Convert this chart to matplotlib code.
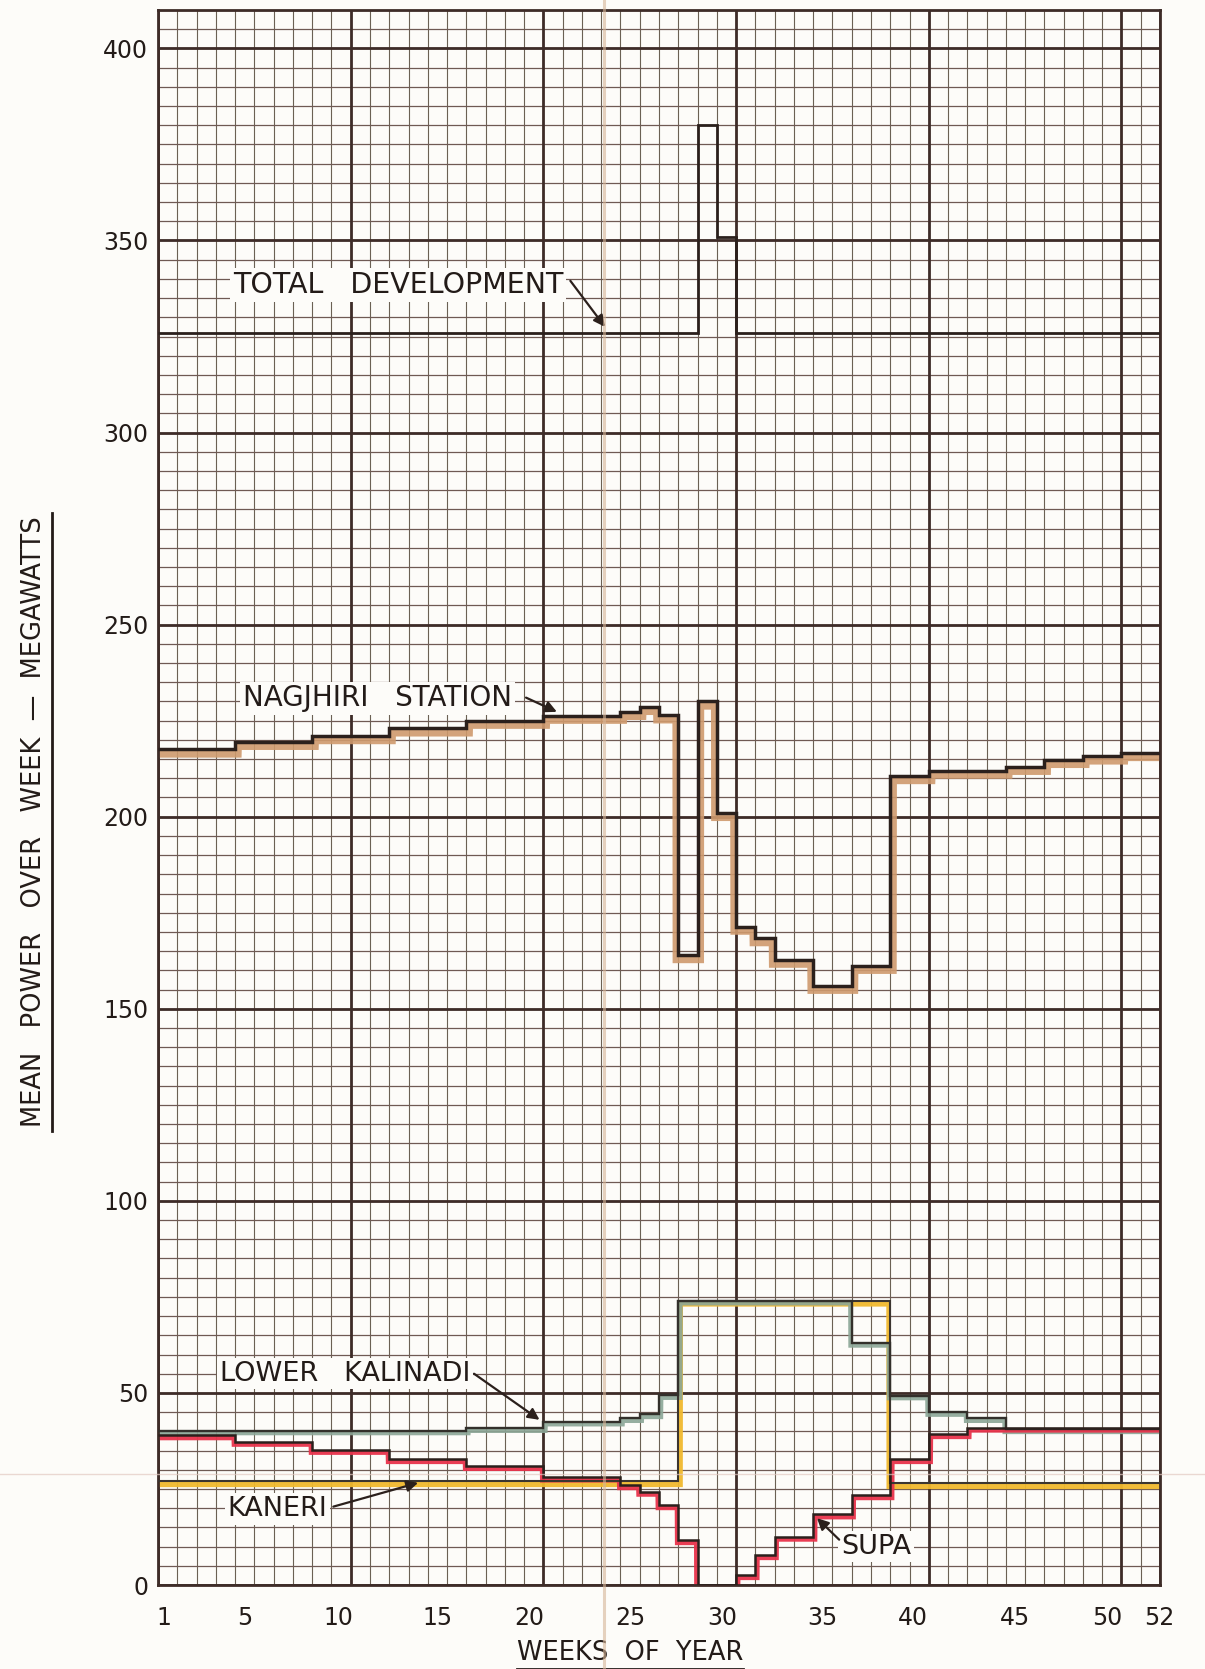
import numpy as np
import matplotlib
matplotlib.use("Agg")
import matplotlib.pyplot as plt
from matplotlib.lines import Line2D

# ---------------- data (weekly mean power, MW; week i spans [i-1, i]) ----------------
weeks = list(range(1, 53))

total_development = [326, 326, 326, 326, 326, 326, 326, 326, 326, 326,
                     326, 326, 326, 326, 326, 326, 326, 326, 326, 326,
                     326, 326, 326, 326, 326, 326, 326, 326, 380, 351,
                     326, 326, 326, 326, 326, 326, 326, 326, 326, 326,
                     326, 326, 326, 326, 326, 326, 326, 326, 326, 326,
                     326, 326]

nagjhiri = [217.5, 217.5, 217.5, 217.5, 219.5, 219.5, 219.5, 219.5, 221, 221,
            221, 221, 223, 223, 223, 223, 225, 225, 225, 225,
            226.3, 226.3, 226.3, 226.3, 227.3, 228.6, 226.4, 164, 230, 201,
            171.4, 168.4, 162.8, 162.8, 156, 156, 161.2, 161.2, 210.6, 210.6,
            212, 212, 212, 212, 213, 213, 214.8, 214.8, 215.7, 215.7,
            216.6, 216.6]

lower_kalinadi = [40.2, 40.2, 40.2, 40.2, 40.2, 40.2, 40.2, 40.2, 40.2, 40.2,
                  40.2, 40.2, 40.2, 40.2, 40.2, 40.2, 40.8, 40.8, 40.8, 40.8,
                  42.5, 42.5, 42.5, 42.5, 43.4, 44.4, 49.4, 74, 74, 74,
                  74, 74, 74, 74, 74, 74, 63, 63, 49.3, 49.3,
                  45, 45, 43.4, 43.4, 40.5, 40.5, 40.5, 40.5, 40.5, 40.5,
                  40.5, 40.5]

kaneri = [27, 27, 27, 27, 27, 27, 27, 27, 27, 27,
          27, 27, 27, 27, 27, 27, 27, 27, 27, 27,
          27, 27, 27, 27, 27, 27, 27, 74, 74, 74,
          74, 74, 74, 74, 74, 74, 74, 74, 26.5, 26.5,
          26.5, 26.5, 26.5, 26.5, 26.5, 26.5, 26.5, 26.5, 26.5, 26.5,
          26.5, 26.5]

supa = [39, 39, 39, 39, 37.3, 37.3, 37.3, 37.3, 35.2, 35.2,
        35.2, 35.2, 32.8, 32.8, 32.8, 32.8, 31, 31, 31, 31,
        28, 28, 28, 28, 26, 24.3, 20.8, 11.7, 0, 0,
        2.6, 7.8, 12.6, 12.6, 18.4, 18.4, 23.4, 23.4, 32.8, 32.8,
        39.3, 39.3, 41, 41, 41, 41, 41, 41, 41, 41,
        41, 41]

x_tick_labels = ["1", "5", "10", "15", "20", "25", "30", "35", "40", "45", "50", "52"]
y_tick_values = [0, 50, 100, 150, 200, 250, 300, 350, 400]

# ---------------- styling ----------------
PAPER = "#fdfcf9"
INK = "#2b201c"
TEXT = "#231b18"
GRID_MINOR_H = "#6f5a54"
GRID_MINOR_V = "#6b6154"
GRID_MAJOR = "#3e2c28"
FONT = "DejaVu Sans"

fig = plt.figure(figsize=(12.05, 16.69), dpi=100, facecolor=PAPER)
ax = fig.add_axes([158 / 1205, 84 / 1669, 1002 / 1205, 1575 / 1669])
ax.set_facecolor(PAPER)
ax.set_xlim(0, 52)
ax.set_ylim(0, 410)

# graph-paper grid
ax.vlines(np.arange(0, 53, 1), 0, 410, color=GRID_MINOR_V, lw=0.8, zorder=0.5)
ax.hlines(np.arange(0, 411, 5), 0, 52, color=GRID_MINOR_H, lw=0.9, zorder=0.5)
ax.vlines(list(np.arange(0, 51, 10)) + [52], 0, 410, color=GRID_MAJOR, lw=2.0, zorder=0.6)
ax.hlines(np.arange(0, 401, 50), 0, 52, color=GRID_MAJOR, lw=2.0, zorder=0.6)
for s in ax.spines.values():
    s.set_color(GRID_MAJOR)
    s.set_linewidth(2.0)

edges = np.arange(0, len(weeks) + 1)


def under_band(vals, dx, dy, n=100):
    """Coloured crayon band just inside (below) a step curve."""
    v = np.asarray(vals, float)
    xf = np.linspace(0, len(v), len(v) * n + 1)
    idx = np.minimum(xf.astype(int), len(v) - 1)
    yf = v[idx]
    k = int(round(dx * n))
    padded = np.pad(yf, k, mode="edge")
    win = np.lib.stride_tricks.sliding_window_view(padded, 2 * k + 1)
    low = win.min(axis=1) - dy
    return xf, low, yf


# coloured highlight bands
for vals, col, dx, dy, a in [
    (kaneri, "#f1b92e", 0.22, 1.4, 0.95),
    (lower_kalinadi, "#8ba696", 0.2, 1.1, 0.9),
    (supa, "#e8334b", 0.2, 1.2, 0.95),
    (nagjhiri, "#cf9a6d", 0.32, 2.0, 0.9),
]:
    xf, low, yf = under_band(vals, dx, dy)
    ax.fill_between(xf, low, yf, color=col, alpha=a, lw=0, zorder=2)

# black ink step lines
ax.stairs(total_development, edges, baseline=None, color=INK, lw=2.0, zorder=3)
ax.stairs(nagjhiri, edges, baseline=None, color=INK, lw=2.5, zorder=3)
ax.stairs(kaneri, edges, baseline=None, color="#3b3530", lw=1.5, zorder=3)
ax.stairs(lower_kalinadi, edges, baseline=None, color="#33302b", lw=1.7, zorder=3.1)
ax.stairs(supa, edges, baseline=None, color=INK, lw=1.8, zorder=3.2)

# ticks
x_tick_pos = [0.3, 4.5, 9.35, 14.5, 19.25, 24.5, 29.3, 34.5, 39.15, 44.5, 49.25, 51.95]
ax.set_xticks(x_tick_pos, x_tick_labels)
ax.set_yticks(y_tick_values, [str(v) for v in y_tick_values])
ax.tick_params(axis="both", length=0, labelsize=17, colors=TEXT)
ax.tick_params(axis="x", pad=15)
ax.tick_params(axis="y", pad=7)
for lab in ax.get_xticklabels() + ax.get_yticklabels():
    lab.set_fontfamily(FONT)

# annotations
box = dict(facecolor=PAPER, edgecolor="none", pad=2)
arrow = dict(arrowstyle="-|>", color=INK, lw=1.6, mutation_scale=17, shrinkA=0, shrinkB=0)
tsize = 19.5


def label(text, x, y, tail, tip, size=tsize):
    ax.text(x, y, text, fontsize=size, family=FONT, color=TEXT,
            ha="left", va="center", bbox=box, zorder=5)
    ax.annotate("", xy=tip, xytext=tail, arrowprops=arrow, zorder=6)


label("TOTAL   DEVELOPMENT", 3.9, 338.5, (21.4, 339.5), (23.2, 327.5), 20.5)
label("NAGJHIRI   STATION", 4.4, 230.8, (19.1, 231.0), (20.7, 227.3), 20.0)
label("LOWER   KALINADI", 3.2, 55.0, (16.4, 55.0), (19.8, 43.0))
label("KANERI", 3.6, 19.8, (9.1, 20.4), (13.5, 26.6))
label("SUPA", 35.45, 10.0, (35.35, 11.8), (34.2, 17.4))

# axis titles (hand-lettered, underlined)
ylab = fig.text(34 / 1205, 1 - 822 / 1669, "MEAN   POWER   OVER   WEEK  —  MEGAWATTS",
                rotation=90, ha="center", va="center", fontsize=18.5, family=FONT,
                color=TEXT)
xlab = fig.text(630 / 1205, 1 - 1653 / 1669, "WEEKS  OF  YEAR", ha="center", va="center",
                fontsize=18.5, family=FONT, color=TEXT)

fig.canvas.draw()
r = fig.canvas.get_renderer()
W, H = fig.get_size_inches() * fig.dpi
bb = ylab.get_window_extent(r)
fig.add_artist(Line2D([(bb.x1 + 5) / W] * 2, [(bb.y0 - 4) / H, (bb.y1 + 4) / H],
                      color=TEXT, lw=2.0))
bb = xlab.get_window_extent(r)
fig.add_artist(Line2D([bb.x0 / W, bb.x1 / W], [(bb.y0 - 3) / H] * 2, color=TEXT, lw=2.0))

# paper creases from the scanned sheet
fig.add_artist(Line2D([604 / 1205] * 2, [0, 1], color="#d6b597", lw=2.2, alpha=0.6, zorder=4))
fig.add_artist(Line2D([0, 1], [1 - 1474 / 1669] * 2, color="#e2c9c2", lw=1.0, alpha=0.7, zorder=4))

fig.savefig("out.png", dpi=100, facecolor=PAPER)
